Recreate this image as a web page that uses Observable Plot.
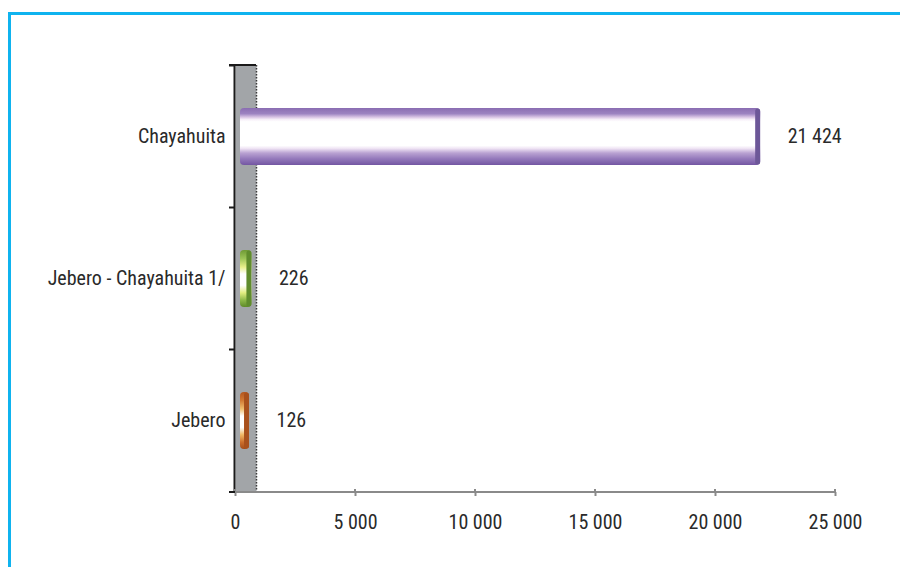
<!DOCTYPE html>
<html><head><meta charset="utf-8">
<script src="https://cdn.jsdelivr.net/npm/d3@7"></script>
<script src="https://cdn.jsdelivr.net/npm/@observablehq/plot@0.6"></script>
<style>
html,body{margin:0;padding:0;background:#fff;}
#wrap{position:relative;width:900px;height:567px;overflow:hidden;}
#border{position:absolute;left:8px;top:12px;width:1000px;height:700px;border-top:3px solid #0fb3ef;border-left:3px solid #0fb3ef;}
#chart{position:absolute;left:0;top:0;}
</style></head><body>
<div id="wrap"><div id="border"></div><div id="chart"></div></div>
<script>
// ---- data ----
const categories = ["Chayahuita", "Jebero - Chayahuita 1/", "Jebero"];
const values = [21424, 226, 126];
const valueLabels = ["21 424", "226", "126"];
const xTicks = [0, 5000, 10000, 15000, 20000, 25000];
const xTickLabels = ["0", "5 000", "10 000", "15 000", "20 000", "25 000"];

const data = categories.map((c, i) => ({category: c, value: values[i], label: valueLabels[i]}));

// ---- styles ----
const gradients = {
  "Chayahuita": {id: "g-purple", cap: "#6c5798", stops: [[0,"#8a6db2"],[0.1,"#9d83c1"],[0.16,"#d8c3e4"],[0.2,"#f6eef8"],[0.24,"#ffffff"],[0.66,"#ffffff"],[0.71,"#efe4f4"],[0.79,"#b9a2d2"],[0.89,"#9479bb"],[1,"#7356a2"]]},
  "Jebero - Chayahuita 1/": {id: "g-green", cap: "#5f8c2c", stops: [[0,"#6e9a34"],[0.15,"#9cc457"],[0.3,"#e8f08a"],[0.42,"#ffffff"],[0.62,"#ffffff"],[0.75,"#e3ee80"],[0.88,"#8db848"],[1,"#5e8a28"]]},
  "Jebero": {id: "g-orange", cap: "#a8501c", stops: [[0,"#b4561e"],[0.15,"#d27a34"],[0.3,"#f0c070"],[0.42,"#ffffff"],[0.62,"#ffffff"],[0.75,"#f0b864"],[0.88,"#cc6e2c"],[1,"#a44c18"]]}
};
const font = '"Liberation Sans Narrow", "Arial Narrow", "Roboto Condensed", "DejaVu Sans Condensed", sans-serif';
const fmtTick = d => xTickLabels[xTicks.indexOf(d)];

const plot = Plot.plot({
  width: 900, height: 567,
  marginLeft: 235, marginRight: 65, marginTop: 65, marginBottom: 75,
  style: {fontFamily: font, fontSize: "20px", fontWeight: 400, color: "#2a2a2a", background: "transparent"},
  x: {domain: [0, 25000], label: null},
  y: {domain: categories, paddingInner: 0.6, paddingOuter: 0.3, label: null},
  color: {type: "identity"},
  marks: [
    Plot.ruleX([0], {stroke: "#a2a5a8", strokeWidth: 21, dx: 10.5}),
    Plot.ruleX([0], {stroke: "#3a3a3a", strokeWidth: 1.5, strokeDasharray: "1.5 1.5", dx: 21}),
    Plot.ruleX([0], {stroke: "#1a1a1a", strokeWidth: 2, dx: -1}),
    Plot.barX(data, {y: "category", x: "value", fill: d => `url(#${gradients[d.category].id})`, insetLeft: 5, insetRight: -11, rx: 4}),
    Plot.tickX(data, {y: "category", x: "value", stroke: d => gradients[d.category].cap, strokeWidth: 5, dx: 8, insetTop: 3, insetBottom: 3, strokeLinecap: "round"}),
    Plot.text(data, {y: "category", x: "value", text: "label", textAnchor: "start", dx: 38, fill: "#2a2a2a"}),
    Plot.axisX({ticks: xTicks, tickFormat: fmtTick, tickSize: 4, tickPadding: 18, stroke: "#8a8a8a", strokeWidth: 2, fill: "#2a2a2a"}),
    Plot.axisY({tickSize: 0, tickPadding: 10, fill: "#2a2a2a"})
  ]
});
document.getElementById("chart").appendChild(plot);

// gradients + frame decorations using the plot's own scales
const svg = d3.select(plot);
const defs = svg.insert("defs", ":first-child");
for (const g of Object.values(gradients)) {
  const lg = defs.append("linearGradient").attr("id", g.id).attr("x1", 0).attr("y1", 0).attr("x2", 0).attr("y2", 1);
  for (const [o, c] of g.stops) lg.append("stop").attr("offset", o).attr("stop-color", c);
}
const xs = plot.scale("x"), ys = plot.scale("y");
const gap = ys.step - ys.bandwidth;
const bounds = categories.map(c => ys.apply(c) - gap / 2).concat([ys.range[1]]);
const x0 = xs.apply(0);
const deco = svg.append("g");
deco.append("line").attr("x1", x0).attr("x2", xs.range[1]).attr("y1", ys.range[1]).attr("y2", ys.range[1]).attr("stroke", "#8a8a8a").attr("stroke-width", 2);
for (const t of xTicks) deco.append("line").attr("x1", xs.apply(t)).attr("x2", xs.apply(t)).attr("y1", ys.range[1] - 3).attr("y2", ys.range[1]).attr("stroke", "#8a8a8a").attr("stroke-width", 2);
deco.append("line").attr("x1", x0 - 6).attr("x2", x0 + 21).attr("y1", ys.range[0]).attr("y2", ys.range[0]).attr("stroke", "#1a1a1a").attr("stroke-width", 2);
for (const b of bounds) deco.append("line").attr("x1", x0 - 6).attr("x2", x0).attr("y1", b).attr("y2", b).attr("stroke", "#1a1a1a").attr("stroke-width", 2);
</script>
</body></html>
